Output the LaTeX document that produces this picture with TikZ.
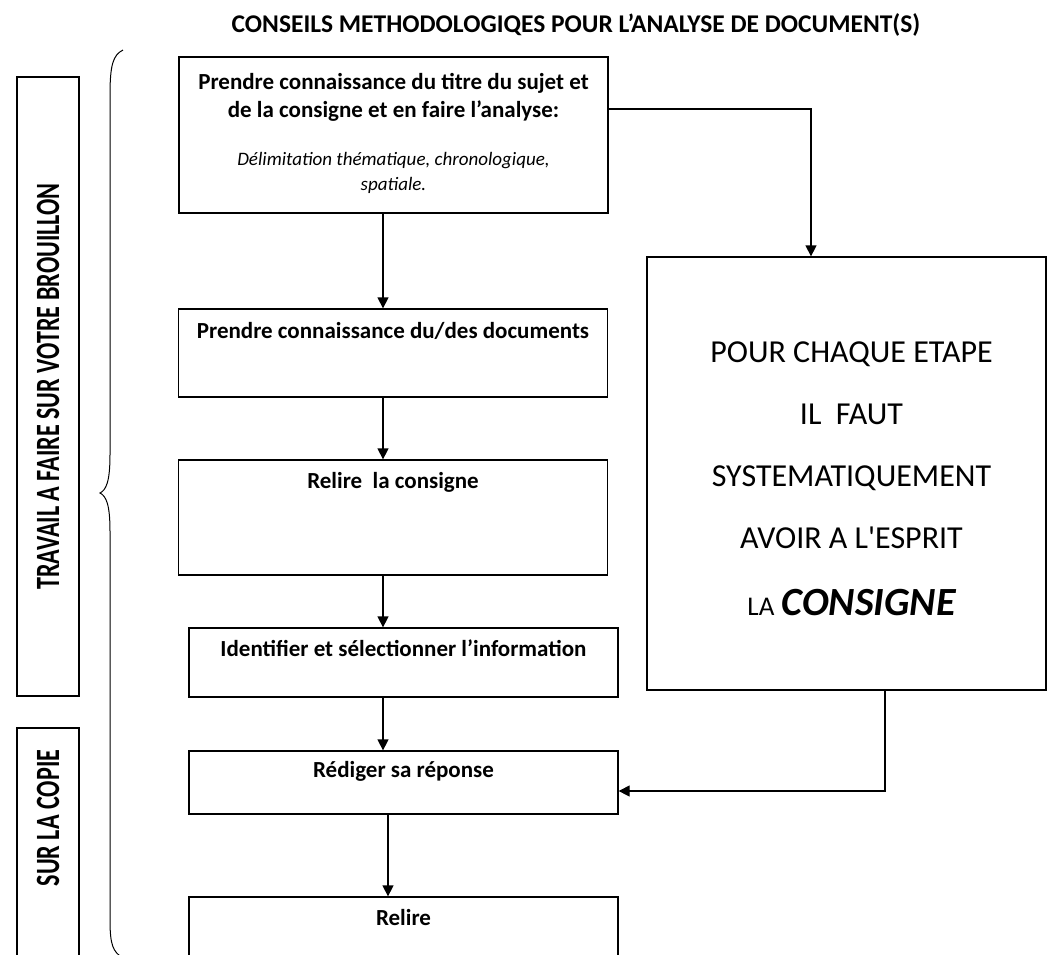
\documentclass[tikz,border=0pt]{standalone}
\usepackage{fontspec}
\setmainfont{Carlito}
\usepackage{graphicx}
\usepackage{tikz}
\usetikzlibrary{positioning,arrows.meta}
\tikzset{>={Triangle[length=11pt,width=11pt]}}

\begin{document}
\begin{tikzpicture}[x=1pt, y=-1pt, line width=1.3pt]
    \tikzset{%
      etape/.style={draw, rectangle, inner sep=0pt, minimum width=429pt},
      etapetxt/.style={anchor=base, inner sep=0pt, align=center,
        font=\fontsize{23}{28}\selectfont\bfseries},
      cote/.style={draw, rectangle, inner sep=0pt, minimum width=62pt},
      cotetxt/.style={rotate=90, inner sep=0pt,
        font=\fontsize{34}{40}\selectfont\bfseries}
      }
    \useasboundingbox (0,0) rectangle (1049,954);
    \clip (0,0) rectangle (1049,954);
    \fill [white] (0,0) rectangle (1049,954);

    \node [anchor=base, inner sep=0pt, font=\fontsize{25.5}{30}\selectfont\bfseries] (titre) at (576,32)
      {CONSEILS METHODOLOGIQES POUR L’ANALYSE DE DOCUMENT(S)};

    % colonne de gauche
    \node [cote, minimum height=619pt] (brouillon) at (48,386.5) {};
    \node [cotetxt] (brouillontxt) at (brouillon)
      {\scalebox{0.71}[1]{TRAVAIL A FAIRE SUR VOTRE BROUILLON}};
    \node [cote, minimum height=262pt] (copie) at (48,859) {};
    \node [cotetxt] (copietxt) at (48,818) {\scalebox{0.71}[1]{SUR LA COPIE}};

    \draw [line width=1pt] (123,50) .. controls (113,55) and (110,65) .. (110,95)
      -- (110,455) .. controls (110,482) and (106,490) .. (100,493)
      .. controls (106,496) and (110,504) .. (110,531)
      -- (110,920) .. controls (110,945) and (113,952) .. (123,958);

    % etapes
    \node [etape, minimum height=156pt] (analyse) at (393.5,135) {};
    \node [etapetxt] (analysetxt) at ([yshift=-61pt]analyse.north)
      {Prendre connaissance du titre du sujet et\\de la consigne et en faire l’analyse:};
    \node [anchor=base, inner sep=0pt, align=center, font=\fontsize{19}{25}\selectfont\itshape]
      (analysenote) at ([yshift=-134pt]analyse.north)
      {Délimitation thématique, chronologique,\\spatiale.};

    \node [etape, minimum height=88pt] (documents) at (393,353) {};
    \node [etapetxt] (documentstxt) at ([yshift=-30pt]documents.north)
      {Prendre connaissance du/des documents};

    \node [etape, minimum height=115pt] (consigne) at (393,517.5) {};
    \node [etapetxt] (consignetxt) at ([yshift=-29pt]consigne.north) {Relire\ \ la consigne};

    \node [etape, minimum height=69pt] (identifier) at (403.5,662.5) {};
    \node [etapetxt] (identifiertxt) at ([yshift=-29pt]identifier.north)
      {Identifier et sélectionner l’information};

    \node [etape, minimum height=63pt] (rediger) at (403.5,782.5) {};
    \node [etapetxt] (redigertxt) at ([yshift=-27pt]rediger.north) {Rédiger sa réponse};

    \node [etape, minimum height=93pt] (relire) at (403.5,943.5) {};
    \node [etapetxt] (reliretxt) at ([yshift=-29pt]relire.north) {Relire};

    % rappel
    \node [draw, rectangle, minimum width=399pt, minimum height=433pt] (rappel) at (846.5,473.5) {};
    \node [align=center, inner sep=0pt, font=\fontsize{32}{62}\selectfont] (rappeltxt)
      at ([xshift=5pt, yshift=-5pt]rappel.center)
      {POUR CHAQUE ETAPE\\IL\ \ FAUT\\SYSTEMATIQUEMENT\\AVOIR A L\textquotesingle ESPRIT\\[5pt]%
       {\fontsize{27}{62}\selectfont LA} {\fontsize{40}{62}\selectfont\bfseries\itshape CONSIGNE}};

    % fleches
    \coordinate (axe) at (383,0);
    \coordinate (axebis) at (388,0);
    \coordinate (coude) at (811,109);
    \coordinate (retour) at (885,791);
    \draw [->] (analyse.south -| axe) -- (documents.north -| axe);
    \draw [->] (documents.south -| axe) -- (consigne.north -| axe);
    \draw [->] (consigne.south -| axe) -- (identifier.north -| axe);
    \draw [->] (identifier.south -| axe) -- (rediger.north -| axe);
    \draw [->] (rediger.south -| axebis) -- (relire.north -| axebis);
    \draw [->] (analyse.east |- coude) -- (coude) -- (rappel.north -| coude);
    \draw [->] (rappel.south -| retour) -- (retour) -- (rediger.east |- retour);

  \end{tikzpicture}
\end{document}
